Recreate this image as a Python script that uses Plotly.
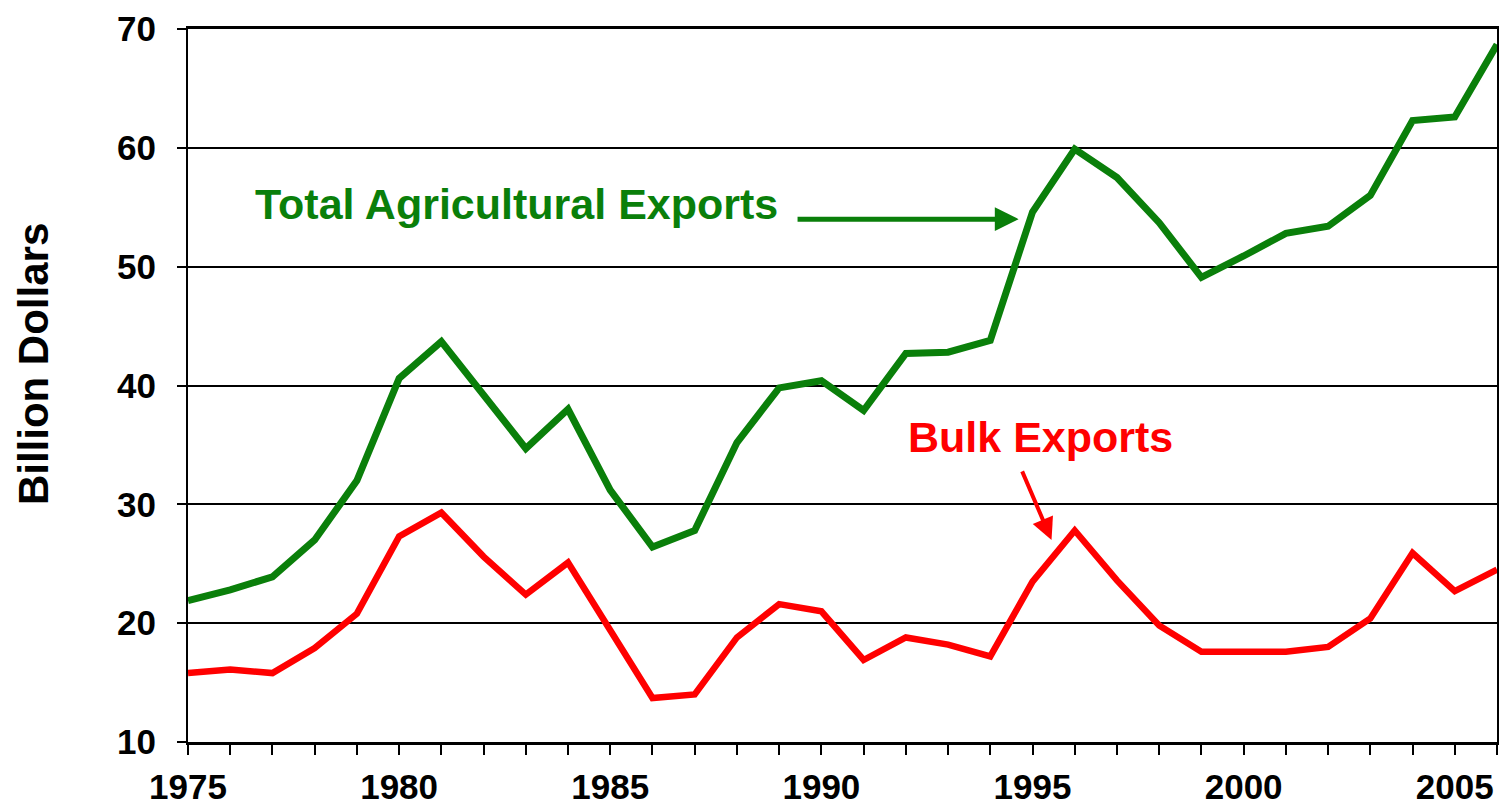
import plotly.graph_objects as go

years = list(range(1975, 2007))
total_exports = [21.9, 22.8, 23.9, 27.0, 32.0, 40.6, 43.7, 39.2, 34.7, 38.0,
                 31.2, 26.4, 27.8, 35.2, 39.8, 40.4, 37.9, 42.7, 42.8, 43.8,
                 54.6, 59.9, 57.5, 53.7, 49.1, 50.9, 52.8, 53.4, 56.0, 62.3,
                 62.6, 68.7]
bulk_exports = [15.8, 16.1, 15.8, 17.9, 20.8, 27.3, 29.3, 25.6, 22.4, 25.1,
                19.4, 13.7, 14.0, 18.8, 21.6, 21.0, 16.9, 18.8, 18.2, 17.2,
                23.5, 27.8, 23.6, 19.8, 17.6, 17.6, 17.6, 18.0, 20.4, 25.9,
                22.7, 24.5]
x_tick_vals = [1975, 1980, 1985, 1990, 1995, 2000, 2005]
y_tick_vals = [10, 20, 30, 40, 50, 60, 70]

GREEN = "#0a7f0a"
RED = "#ff0000"
FONT = "Liberation Sans, Arial, sans-serif"

fig = go.Figure()
fig.add_trace(go.Scatter(x=years, y=total_exports, mode="lines",
                         line=dict(color=GREEN, width=7), cliponaxis=False,
                         name="Total Agricultural Exports"))
fig.add_trace(go.Scatter(x=years, y=bulk_exports, mode="lines",
                         line=dict(color=RED, width=6.5), cliponaxis=False,
                         name="Bulk Exports"))

fig.update_layout(
    width=1502, height=809,
    margin=dict(l=188, r=5, t=29, b=67),
    paper_bgcolor="white", plot_bgcolor="white",
    showlegend=False,
    font=dict(family=FONT, color="black"),
)
fig.update_xaxes(
    range=[1975, 2006], tickvals=x_tick_vals, automargin=False,
    ticks="outside", ticklen=10, tickwidth=2, tickcolor="black",
    minor=dict(dtick=1, tick0=1975, ticks="outside", ticklen=10, tickwidth=2, tickcolor="black"),
    showline=True, linecolor="black", linewidth=3, mirror=True,
    showgrid=False, zeroline=False,
    tickfont=dict(size=35, family=FONT, weight="bold", color="black"),
    ticklabelstandoff=2,
)
fig.update_yaxes(
    range=[10, 70], tickvals=y_tick_vals, automargin=False,
    ticks="outside", ticklen=9, tickwidth=2, tickcolor="black",
    showline=True, linecolor="black", linewidth=2, mirror=True,
    showgrid=True, gridcolor="black", gridwidth=2, zeroline=False,
    tickfont=dict(size=35, family=FONT, weight="bold", color="black"),
    ticklabelstandoff=14,
)

fig.add_annotation(text="Billion Dollars", xref="paper", yref="paper",
                   x=-0.1184, y=0.53, xanchor="center", yanchor="middle",
                   textangle=-90, showarrow=False,
                   font=dict(size=42, family=FONT, weight="bold", color="black"))
fig.add_annotation(text="Total Agricultural Exports", xref="x", yref="y",
                   x=1982.78, y=55.3, showarrow=False,
                   font=dict(size=43, family=FONT, weight="bold", color=GREEN))
fig.add_annotation(text="Bulk Exports", xref="x", yref="y",
                   x=1995.2, y=35.7, showarrow=False,
                   font=dict(size=43, family=FONT, weight="bold", color=RED))
# arrows
fig.add_annotation(text="", xref="x", yref="y", x=1994.67, y=54.0,
                   axref="x", ayref="y", ax=1989.4, ay=54.0,
                   showarrow=True, arrowhead=2, arrowsize=0.95, arrowwidth=5,
                   arrowcolor=GREEN, standoff=0)
fig.add_annotation(text="", xref="x", yref="y", x=1995.45, y=27.0,
                   axref="x", ayref="y", ax=1994.74, ay=32.9,
                   showarrow=True, arrowhead=2, arrowsize=1.1, arrowwidth=4,
                   arrowcolor=RED, standoff=0)

fig.write_html(
    "out.html",
    config={"displayModeBar": False},
    post_script="document.body.style.margin='0';document.body.style.overflow='hidden';",
)
